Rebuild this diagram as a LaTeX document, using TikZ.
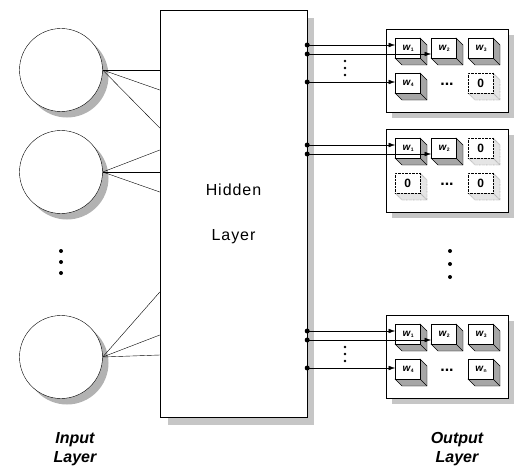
\documentclass[tikz,border=0pt]{standalone}
\usepackage{fontspec}
\setmainfont{Liberation Sans}
\newfontfamily\spacedsf[LetterSpace=6]{Liberation Sans}
\usetikzlibrary{arrows.meta,positioning}

% one weight cube: name, x, y, kind (w or z), label
\newcommand{\wcube}[5]{%
  \filldraw[#4side] (#2+25,#3) -- ++(7,7) -- ++(0,20) -- ++(-25,0)
    -- ++(-7,-7) -- ++(25,0) -- cycle;
  \draw[#4side,fill=none] (#2+25,#3+20) -- ++(7,7);
  \node[#4face,anchor=north west] (#1) at (#2,#3) {#5};}
\newcommand{\wl}[1]{\textbf{\textit{w}}\raisebox{-1.5pt}{\fontsize{5}{5}\selectfont\bfseries #1}}

\begin{document}
\begin{tikzpicture}[x=1pt,y=-1pt,
      neuron/.style={circle,draw,fill=white,minimum size=83pt,inner sep=0pt},
      nshadow/.style={circle,fill=gray!60,minimum size=83pt,inner sep=0pt},
      layer/.style={draw,fill=white,minimum width=147pt,minimum height=407pt,
                    align=center,font=\spacedsf\fontsize{16}{45}\selectfont},
      grp/.style={draw,fill=white,minimum width=122pt,minimum height=83pt,
                  anchor=north west,inner sep=0pt},
      shade/.style={fill=gray!45},
      wface/.style={draw,line width=1.1pt,fill=white,minimum width=25pt,
                    minimum height=20pt,inner sep=0pt,font=\fontsize{10}{10}\selectfont},
      zface/.style={draw,densely dotted,fill=white,minimum width=25pt,
                    minimum height=20pt,inner sep=0pt,font=\bfseries\fontsize{12}{12}\selectfont},
      wside/.style={draw,thin,fill=gray!70},
      zside/.style={draw,densely dotted,fill=gray!20},
      link/.style={thin},
      arr/.style={-{Latex[length=2.2mm,width=1.6mm]},thin},
      caption/.style={align=center,font=\bfseries\itshape\fontsize{16}{19}\selectfont}]
    \useasboundingbox (0,0) rectangle (518,468);

    % input layer
    \foreach \n/\y in {1/70,2/172,3/357} {
      \node[nshadow] at (67,\y+6) {};
      \node[neuron] (in\n) at (61,\y) {};
    }
    \foreach \y in {251,262,273} \fill (61,\y) circle (2pt);
    \node[caption] (inlab) at (75,449) {Input\\Layer};

    % hidden layer
    \fill[shade] (307,18) rectangle (314,425);
    \fill[shade] (168,417) rectangle (314,425);
    \node[layer] (hidden) at (233.5,213.5) {Hidden\\Layer};

    \foreach \y in {70,90,128} \draw[link] (in1.east) -- (hidden.west |- 0,\y);
    \foreach \y in {150,172,192} \draw[link] (in2.east) -- (hidden.west |- 0,\y);
    \foreach \y in {292,335,355} \draw[link] (in3.east) -- (hidden.west |- 0,\y);

    % output groups
    \foreach \g/\T in {1/29,2/129,3/315} {
      \fill[shade] (508,\T+6) rectangle (514,\T+89);
      \fill[shade] (392,\T+83) rectangle (514,\T+89);
      \node[grp] (grp\g) at (386,\T) {};
    }
    \foreach \nm/\x/\y/\k/\lab in {
        c11/395/38/w/\wl{1}, c12/431/38/w/\wl{2}, c13/468/38/w/\wl{3},
        c14/395/73/w/\wl{4}, c15/468/73/z/0,
        c21/395/138/w/\wl{1}, c22/431/138/w/\wl{2}, c23/468/138/z/0,
        c24/395/173/z/0, c25/468/173/z/0,
        c31/395/324/w/\wl{1}, c32/431/324/w/\wl{2}, c33/468/324/w/\wl{3},
        c34/395/359/w/\wl{4}, c35/468/359/w/\wl{n}}
      \wcube{\nm}{\x}{\y}{\k}{\lab};
    \foreach \g/\T in {1/29,2/129,3/315} {
      \node[font=\bfseries\fontsize{16}{16}\selectfont] (hdots\g) at (447,\T+55) {...};
      \draw[arr] (hidden.east |- 0,\T+16) -- (c\g1.west |- 0,\T+16);
      \draw[arr] (hidden.east |- 0,\T+25) -- (c\g2.west |- 0,\T+25);
      \fill (hidden.east |- 0,\T+16) circle (2.5pt);
      \fill (hidden.east |- 0,\T+25) circle (2.5pt);
    }
    \foreach \g/\T in {1/29,3/315} {
      \draw[arr] (hidden.east |- 0,\T+53) -- (c\g4.west |- 0,\T+53);
      \fill (hidden.east |- 0,\T+53) circle (2.5pt);
      \foreach \d in {32,39,46} \fill (345,\T+\d) circle (1.4pt);
    }
    \foreach \y in {251,264,277} \fill (450,\y) circle (2pt);
    \node[caption] (outlab) at (457,449) {Output\\Layer};
  \end{tikzpicture}
\end{document}
